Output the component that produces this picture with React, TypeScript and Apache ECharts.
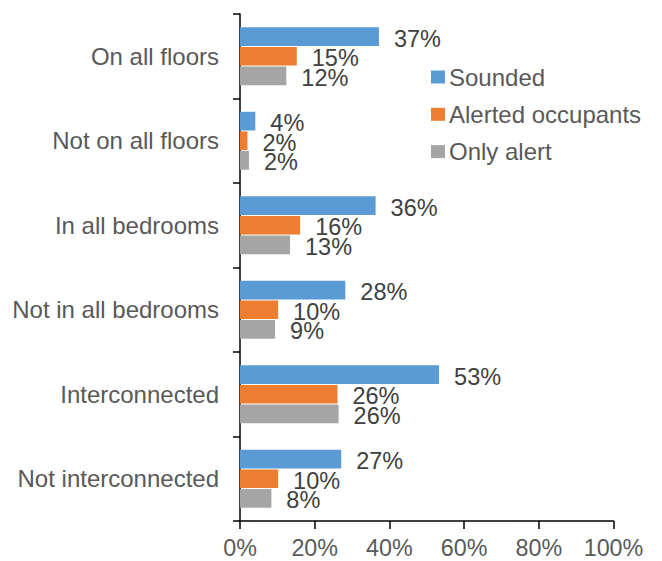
import React, { useEffect, useRef } from "react";
import * as echarts from "echarts";

const categories = [
  "On all floors",
  "Not on all floors",
  "In all bedrooms",
  "Not in all bedrooms",
  "Interconnected",
  "Not interconnected",
];
const sounded = [37.2, 4.1, 36.3, 28.2, 53.3, 27.1];
const alerted = [15.2, 2.0, 16.1, 10.2, 26.1, 10.2];
const onlyAlert = [12.4, 2.4, 13.4, 9.4, 26.4, 8.4];
const xTicks = { min: 0, max: 100, interval: 20 };

const FONT = "'Liberation Sans', Arial, sans-serif";

export default function App() {
  const ref = useRef<HTMLDivElement>(null);
  useEffect(() => {
    if (!ref.current) return;
    const chart = echarts.init(ref.current, undefined, { renderer: "svg" });
    const label = {
      show: true,
      position: "right",
      distance: 15,
      offset: [0, 2],
      color: "#404040",
      fontSize: 23.5,
      fontFamily: FONT,
      formatter: (p: any) => Math.round(p.value) + "%",
    };
    const mk = (name: string, data: number[], color: string) => ({
      name,
      type: "bar",
      data,
      barWidth: 18.7,
      barGap: "5%",
      itemStyle: { color },
      label,
    });
    chart.setOption({
      animation: false,
      textStyle: { fontFamily: FONT },
      grid: { left: 240, right: 48.5, top: 14, bottom: 40, containLabel: false },
      legend: {
        orient: "vertical",
        left: 426,
        top: 60,
        itemWidth: 14,
        itemHeight: 13,
        itemGap: 13.3,
        icon: "rect",
        textStyle: {
          color: "#595959",
          fontSize: 24,
          lineHeight: 24,
          fontFamily: FONT,
          padding: [0, 0, 0, -1],
        },
        data: ["Sounded", "Alerted occupants", "Only alert"],
      },
      xAxis: {
        type: "value",
        min: xTicks.min,
        max: xTicks.max,
        interval: xTicks.interval,
        splitLine: { show: false },
        axisLine: { show: true, lineStyle: { color: "#000", width: 1.5 } },
        axisTick: { show: true, length: 8, lineStyle: { color: "#000", width: 1.5 } },
        axisLabel: {
          formatter: "{value}%",
          color: "#595959",
          fontSize: 23.3,
          fontFamily: FONT,
          margin: 15,
        },
      },
      yAxis: {
        type: "category",
        data: categories,
        inverse: true,
        axisLine: { show: true, lineStyle: { color: "#000", width: 1.5 } },
        axisTick: { show: true, length: 7, alignWithLabel: false, lineStyle: { color: "#000", width: 1.5 } },
        axisLabel: {
          color: "#595959",
          fontSize: 24,
          fontFamily: FONT,
          margin: 21,
        },
      },
      series: [
        mk("Sounded", sounded, "#5B9BD5"),
        mk("Alerted occupants", alerted, "#ED7D31"),
        mk("Only alert", onlyAlert, "#A5A5A5"),
      ],
    });
    return () => chart.dispose();
  }, []);
  return <div ref={ref} style={{ width: 662, height: 561, position: "absolute", left: 0, top: 0 }} />;
}
